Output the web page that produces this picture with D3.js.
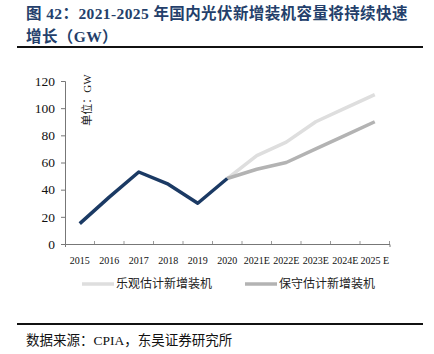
<!DOCTYPE html>
<html>
<head>
<meta charset="utf-8">
<script src="https://cdn.jsdelivr.net/npm/d3@7"></script>
<style>
  body { margin: 0; background: #fff; }
  svg { display: block; }
</style>
</head>
<body>
<svg width="434" height="354"></svg>
<script>
// data
const years = ["2015", "2016", "2017", "2018", "2019", "2020", "2021E", "2022E", "2023E", "2024E", "2025 E"];
const actual = [15, 34.5, 53, 44, 30, 48.2];
const optimistic = [48.2, 65, 75, 90, 100, 110];
const conservative = [48.2, 55, 60, 70, 80, 90];
const yTicks = [0, 20, 40, 60, 80, 100, 120];
const legendNames = ["乐观估计新增装机", "保守估计新增装机"];

const serif = "'Liberation Serif', 'Noto Sans CJK SC', serif";
const cjk = "'Liberation Serif', 'Noto Sans CJK SC', sans-serif";

const svg = d3.select("svg");

// title
svg.append("text").attr("x", 26).attr("y", 19)
    .style("font-family", cjk).style("font-size", "15.5px").style("font-weight", "bold")
    .style("letter-spacing", "0.4px")
    .attr("fill", "#243f6b")
    .text("图 42：2021-2025 年国内光伏新增装机容量将持续快速");
svg.append("text").attr("x", 26).attr("y", 42)
    .style("font-family", cjk).style("font-size", "15.5px").style("font-weight", "bold")
    .style("letter-spacing", "0.4px")
    .attr("fill", "#243f6b")
    .text("增长（GW）");
svg.append("rect").attr("x", 17).attr("y", 46).attr("width", 406).attr("height", 2).attr("fill", "#111");

// scales
const x = d3.scaleBand().domain(years).range([65, 389.5]).padding(0);
const y = d3.scaleLinear().domain([0, 120]).range([244, 81]);
const cx = d => x(d) + x.bandwidth() / 2;

// y axis
const gy = svg.append("g").attr("transform", "translate(65,0)")
    .call(d3.axisLeft(y).tickValues(yTicks).tickSize(4).tickPadding(6));
gy.select(".domain").attr("stroke", "#777");
gy.selectAll(".tick line").attr("stroke", "#777");
gy.selectAll("text").style("font-family", serif).style("font-size", "13.5px").attr("fill", "#111");

// x axis
const gx = svg.append("g").attr("transform", "translate(0,244)")
    .call(d3.axisBottom(x).tickSizeInner(3).tickSizeOuter(3).tickPadding(10));
gx.select(".domain").attr("stroke", "#777");
gx.selectAll(".tick line").attr("stroke", "#999").attr("transform", "translate(" + (x.bandwidth() / 2) + ",-3)");
gx.selectAll("text").style("font-family", serif).style("font-size", "10px").attr("fill", "#111");

// unit label
svg.append("text")
    .attr("transform", "translate(91,100) rotate(-90)")
    .attr("text-anchor", "middle")
    .style("font-family", cjk).style("font-size", "11px").attr("fill", "#222")
    .text("单位：GW");

const line = d3.line().x(d => cx(d[0])).y(d => y(d[1]));

svg.append("path")
    .datum(years.slice(5).map((yr, i) => [yr, optimistic[i]]))
    .attr("d", line).attr("fill", "none")
    .attr("stroke", "#dedede").attr("stroke-width", 3.5).attr("stroke-linejoin", "round");

svg.append("path")
    .datum(years.slice(5).map((yr, i) => [yr, conservative[i]]))
    .attr("d", line).attr("fill", "none")
    .attr("stroke", "#b3b3b3").attr("stroke-width", 3.5).attr("stroke-linejoin", "round");

svg.append("path")
    .datum(years.slice(0, 6).map((yr, i) => [yr, actual[i]]))
    .attr("d", line).attr("fill", "none")
    .attr("stroke", "#1b3a64").attr("stroke-width", 3.5).attr("stroke-linejoin", "round");

// legend
const legColors = ["#dedede", "#b3b3b3"];
const legX = [82, 245];
const legend = svg.selectAll(".legend")
    .data(legendNames).enter().append("g")
    .attr("class", "legend")
    .attr("transform", (d, i) => "translate(" + legX[i] + ",284)");
legend.append("line").attr("x1", 0).attr("x2", 32).attr("y1", 0).attr("y2", 0)
    .attr("stroke", (d, i) => legColors[i]).attr("stroke-width", 3.5);
legend.append("text").attr("x", 34).attr("y", 4)
    .style("font-family", cjk).style("font-size", "12px").attr("fill", "#222")
    .text(d => d);

// source
svg.append("rect").attr("x", 17).attr("y", 323).attr("width", 406).attr("height", 2).attr("fill", "#111");
svg.append("text").attr("x", 26).attr("y", 345)
    .style("font-family", cjk).style("font-size", "13.5px").attr("fill", "#111")
    .text("数据来源：CPIA，东吴证券研究所");
</script>
</body>
</html>
